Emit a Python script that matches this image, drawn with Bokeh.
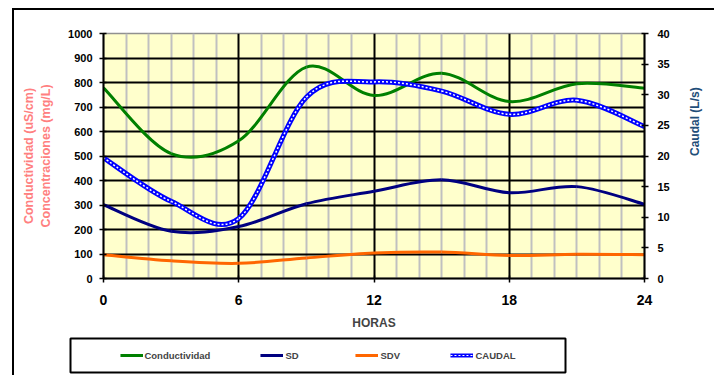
import math
from bokeh.plotting import figure
from bokeh.models import (Range1d, LinearAxis, FixedTicker, Legend, LegendItem,
                          Spacer, ColumnDataSource)
from bokeh.layouts import column, row
from bokeh.embed import file_html
from bokeh.resources import INLINE

# ---- data ----
horas = [0, 3, 6, 9, 12, 15, 18, 21, 24]
conductividad = [778, 510, 562, 863, 747, 838, 722, 795, 777]
sd = [301, 193, 212, 305, 356, 403, 350, 375, 303]
sdv = [97, 72, 62, 84, 104, 108, 94, 99, 97]
caudal = [19.7, 12.6, 9.8, 29.6, 32.1, 30.6, 26.8, 29.1, 24.8]

left_ticks = list(range(0, 1001, 100))
right_ticks = list(range(0, 41, 5))
x_ticks = [0, 6, 12, 18, 24]

FONT = "Liberation Sans"


def smooth_segments(xs, ys):
    """Excel-style smoothed line: cubic Bezier control points (Catmull-Rom, 1/6)."""
    n = len(xs)
    d = dict(x0=[], y0=[], x1=[], y1=[], cx0=[], cy0=[], cx1=[], cy1=[])
    for i in range(n - 1):
        im1 = max(i - 1, 0)
        ip2 = min(i + 2, n - 1)
        d["x0"].append(xs[i]); d["y0"].append(ys[i])
        d["x1"].append(xs[i + 1]); d["y1"].append(ys[i + 1])
        d["cx0"].append(xs[i] + (xs[i + 1] - xs[im1]) / 6)
        d["cy0"].append(ys[i] + (ys[i + 1] - ys[im1]) / 6)
        d["cx1"].append(xs[i + 1] - (xs[ip2] - xs[i]) / 6)
        d["cy1"].append(ys[i + 1] - (ys[ip2] - ys[i]) / 6)
    return ColumnDataSource(d)


p = figure(width=700, height=325, x_range=Range1d(0, 24), y_range=Range1d(0, 1000),
           output_backend="svg", toolbar_location=None,
           min_border_left=89, min_border_right=70, min_border_top=23, min_border_bottom=57)
p.extra_y_ranges = {"caudal": Range1d(0, 40)}
p.background_fill_color = "#FFFFCC"
p.border_fill_color = "white"
p.outline_line_color = "#909090"
p.outline_line_width = 1.5

# grids
p.xgrid.ticker = FixedTicker(ticks=[6, 12, 18],
                             minor_ticks=[h for h in range(1, 24) if h % 6 != 0])
p.xgrid.grid_line_color = "black"
p.xgrid.grid_line_width = 2
p.xgrid.minor_grid_line_color = "#C0C0C0"
p.xgrid.minor_grid_line_width = 2
p.ygrid.ticker = FixedTicker(ticks=left_ticks[1:-1])
p.ygrid.grid_line_color = "black"
p.ygrid.grid_line_width = 1.8

# x axis
xa = p.xaxis[0]
xa.ticker = FixedTicker(ticks=x_ticks)
xa.axis_label = "HORAS"
xa.axis_label_text_font = FONT
xa.axis_label_text_font_style = "bold"
xa.axis_label_text_font_size = "12px"
xa.axis_label_standoff = 8
xa.major_label_text_font = FONT
xa.major_label_text_font_style = "bold"
xa.major_label_text_font_size = "14px"
xa.major_label_standoff = 12

# left axis
ya = p.yaxis[0]
ya.ticker = FixedTicker(ticks=left_ticks)
ya.axis_label = "Conductividad (uS/cm)\nConcentraciones (mg/L)"
ya.axis_label_text_color = "#FF8080"
ya.axis_label_text_font = FONT
ya.axis_label_text_font_style = "bold"
ya.axis_label_text_font_size = "12.5px"
ya.axis_label_standoff = 12
ya.major_label_text_font = FONT
ya.major_label_text_font_style = "bold"
ya.major_label_text_font_size = "11px"
ya.major_label_standoff = 7

# right axis
ra = LinearAxis(y_range_name="caudal", ticker=FixedTicker(ticks=right_ticks),
                axis_label="Caudal (L/s)")
ra.axis_label_text_color = "#1F4E79"
ra.axis_label_text_font = FONT
ra.axis_label_text_font_style = "bold"
ra.axis_label_text_font_size = "12px"
ra.axis_label_standoff = 22
ra.axis_label_orientation = math.pi / 2
ra.major_label_text_font = FONT
ra.major_label_text_font_style = "bold"
ra.major_label_text_font_size = "11px"
ra.major_label_standoff = 9
p.add_layout(ra, "right")

for ax in (xa, ya, ra):
    ax.axis_line_color = "black"
    ax.axis_line_width = 2
    ax.major_tick_line_color = "black"
    ax.major_tick_line_width = 1.5
    ax.major_tick_in = 3
    ax.major_tick_out = 4
    ax.minor_tick_line_color = None
    ax.major_label_text_color = "black"

# series
COL_C, COL_SD, COL_SDV, COL_Q = "#008000", "#000080", "#FF6600", "#0000FF"
bz = dict(x0="x0", y0="y0", x1="x1", y1="y1", cx0="cx0", cy0="cy0", cx1="cx1", cy1="cy1")
p.bezier(source=smooth_segments(horas, conductividad), line_color=COL_C, line_width=3, **bz)
p.bezier(source=smooth_segments(horas, sd), line_color=COL_SD, line_width=3, **bz)
p.bezier(source=smooth_segments(horas, sdv), line_color=COL_SDV, line_width=3, **bz)
q_src = smooth_segments(horas, caudal)
p.bezier(source=q_src, line_color=COL_Q, line_width=5, y_range_name="caudal", **bz)
p.bezier(source=q_src, line_color="white", line_width=1.5, line_dash="2 2",
         y_range_name="caudal", **bz)

# legend figure (boxed legend below the chart)
lf = figure(width=504, height=40, x_range=Range1d(0, 1), y_range=Range1d(0, 1),
            output_backend="svg", toolbar_location=None,
            min_border_left=6, min_border_right=3, min_border_top=3, min_border_bottom=3,
            x_axis_type=None, y_axis_type=None)
lf.grid.visible = False
lf.outline_line_color = "black"
lf.outline_line_width = 2
lf.background_fill_color = "white"
lf.border_fill_color = "white"

# legend-only renderers: their points lie outside this small figure's ranges
hx, hy = [5, 6], [5, 5]
rc = lf.line(x=hx, y=hy, line_color=COL_C, line_width=3)
rsd = lf.line(x=hx, y=hy, line_color=COL_SD, line_width=3)
rsdv = lf.line(x=hx, y=hy, line_color=COL_SDV, line_width=3)
rq1 = lf.line(x=hx, y=hy, line_color=COL_Q, line_width=4)
rq2 = lf.line(x=hx, y=hy, line_color="white", line_width=1.2, line_dash="2 2")

legend = Legend(items=[LegendItem(label="Conductividad", renderers=[rc]),
                       LegendItem(label="SD", renderers=[rsd]),
                       LegendItem(label="SDV", renderers=[rsdv]),
                       LegendItem(label="CAUDAL", renderers=[rq1, rq2])],
                location="center", orientation="horizontal",
                spacing=50, glyph_width=23, glyph_height=14, label_standoff=2,
                padding=2, margin=0,
                border_line_alpha=0, background_fill_alpha=0,
                label_text_font=FONT, label_text_font_style="bold",
                label_text_font_size="9.5px", label_height=14)
lf.add_layout(legend)

layout = column(p, row(Spacer(width=50, height=40), lf),
                margin=(8, 0, 0, 12),
                styles={"border-left": "2px solid black", "border-top": "2px solid black"})

open("out.html", "w").write(file_html(layout, INLINE))
